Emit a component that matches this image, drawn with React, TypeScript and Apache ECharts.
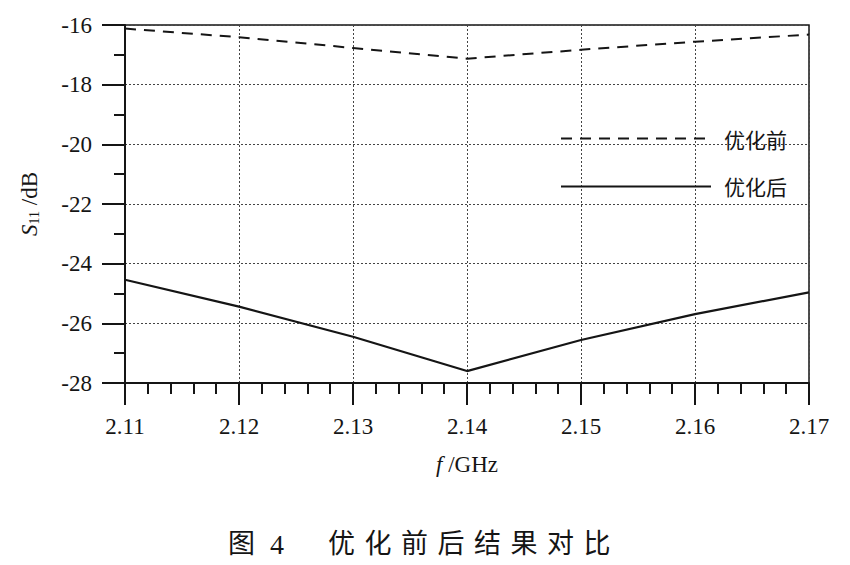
import React, { useEffect, useRef } from "react";
import * as echarts from "echarts";

const freqs = [2.11, 2.12, 2.13, 2.14, 2.15, 2.16, 2.17];
const before = [-16.12, -16.41, -16.77, -17.13, -16.83, -16.56, -16.32];
const after = [-24.54, -25.44, -26.45, -27.6, -26.56, -25.69, -24.96];
const seriesNames = ["优化前", "优化后"];
const captionChars = ["优", "化", "前", "后", "结", "果", "对", "比"];

export default function App() {
  const ref = useRef<HTMLDivElement>(null);
  useEffect(() => {
    const chart = echarts.init(ref.current!, null, { renderer: "svg" });
    const ink = "#151515";
    const serif = "Liberation Serif";
    const cjk = "Noto Sans CJK SC";
    const graphic: any[] = [
      {
        type: "text",
        left: 228,
        top: 528,
        style: { text: "图", fontFamily: cjk, fontSize: 27, fill: ink },
      },
      {
        type: "text",
        left: 270,
        top: 530,
        style: { text: "4", fontFamily: serif, fontSize: 28, fill: ink },
      },
      ...captionChars.map((c, i) => ({
        type: "text",
        left: 328 + i * 36.5,
        top: 528,
        style: { text: c, fontFamily: cjk, fontSize: 27, fill: ink },
      })),
    ];
    chart.setOption({
      animation: false,
      backgroundColor: "#fff",
      grid: {
        left: 125,
        right: 41,
        top: 25,
        bottom: 182,
        show: true,
        borderColor: ink,
        borderWidth: 1.5,
      },
      legend: {
        orient: "vertical",
        left: 560,
        top: 128,
        padding: 0,
        itemWidth: 150,
        itemHeight: 12,
        itemGap: 27,
        data: seriesNames,
        itemStyle: { opacity: 0 },
        textStyle: {
          fontFamily: cjk,
          fontSize: 21,
          color: ink,
          padding: [0, 0, 4, 8],
        },
      },
      xAxis: {
        type: "value",
        min: 2.11,
        max: 2.17,
        interval: 0.01,
        name: "{i|f}{n| /GHz}",
        nameLocation: "middle",
        nameGap: 70,
        nameTextStyle: {
          rich: {
            i: { fontFamily: serif, fontStyle: "italic", fontSize: 23, color: ink },
            n: { fontFamily: serif, fontSize: 23, color: ink },
          },
        },
        axisLine: { show: true, lineStyle: { color: ink, width: 2 } },
        axisTick: { show: true, inside: false, length: 22, lineStyle: { color: ink, width: 2 } },
        minorTick: { show: true, splitNumber: 5, length: 11, lineStyle: { color: ink, width: 2 } },
        axisLabel: {
          margin: 32,
          fontFamily: serif,
          fontSize: 23,
          color: ink,
          formatter: (v: number) => v.toFixed(2),
        },
        splitLine: { show: true, lineStyle: { color: "#444", type: [2, 2], width: 1 } },
      },
      yAxis: {
        type: "value",
        min: -28,
        max: -16,
        interval: 2,
        name: "{s|S}{sub|11}{n| /dB}",
        nameLocation: "middle",
        nameGap: 84,
        nameRotate: 90,
        nameTextStyle: {
          rich: {
            s: { fontFamily: serif, fontStyle: "italic", fontSize: 23, color: ink },
            sub: { fontFamily: serif, fontSize: 14, color: ink, verticalAlign: "bottom", padding: [9, 0, 0, 0] },
            n: { fontFamily: serif, fontSize: 23, color: ink },
          },
        },
        axisLine: { show: true, lineStyle: { color: ink, width: 2 } },
        axisTick: { show: true, inside: false, length: 23, lineStyle: { color: ink, width: 2 } },
        minorTick: { show: true, splitNumber: 2, length: 11, lineStyle: { color: ink, width: 2 } },
        axisLabel: { margin: 33, fontFamily: serif, fontSize: 23, color: ink },
        splitLine: { show: true, lineStyle: { color: "#444", type: [2, 2], width: 1 } },
      },
      series: [
        {
          name: seriesNames[0],
          type: "line",
          data: freqs.map((f, i) => [f, before[i]]),
          symbol: "none",
          lineStyle: { color: ink, width: 2, type: [11, 8] },
          itemStyle: { color: ink },
        },
        {
          name: seriesNames[1],
          type: "line",
          data: freqs.map((f, i) => [f, after[i]]),
          symbol: "none",
          lineStyle: { color: ink, width: 2.2, type: "solid" },
          itemStyle: { color: ink },
        },
      ],
      graphic,
    });
    return () => chart.dispose();
  }, []);
  return <div ref={ref} style={{ width: 850, height: 565, position: "absolute", left: 0, top: 0 }} />;
}
